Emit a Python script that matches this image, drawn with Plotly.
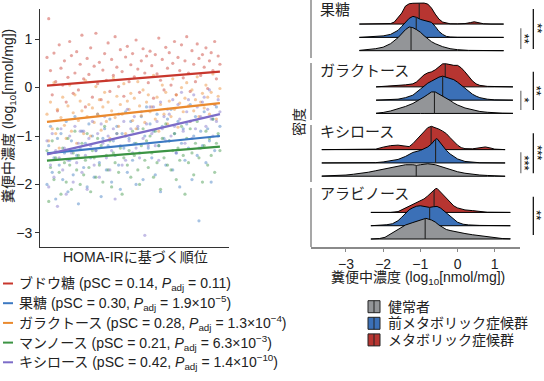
import numpy as np
import plotly.graph_objects as go

W, H = 544, 381
def px(x): return x / W
def py(y): return 1 - y / H

FONT = "'Liberation Sans', 'Noto Sans CJK JP', sans-serif"

# ---------------- left panel data ----------------
subject_rank = list(range(1, 101))
glucose = [0.62, 1.42, 0.35, -0.15, 0.71, 0.12, -0.48, 0.88, 0.40, 0.05,
           0.55, -0.30, 0.21, 0.95, 0.66, -0.12, 0.30, 0.74, -0.05, 0.48,
           1.08, 0.18, -0.40, 0.60, 0.27, 0.82, -0.20, 0.44, 1.12, 0.08,
           0.52, -0.25, 0.36, 0.70, 0.15, 0.92, -0.08, 0.58, 0.25, 1.05,
           0.42, 0.02, 0.78, 0.33, -0.18, 0.63, 0.85, 0.12, 0.47, 0.70,
           0.22, 0.98, 0.38, -0.10, 0.55, 0.80, 0.30, 0.65, 0.10, 0.75,
           0.45, -0.22, 0.68, 0.28, 1.02, 0.15, 0.58, -0.05, 0.83, 0.40,
           0.72, 0.05, 0.50, 0.95, -0.15, 0.62, 0.35, 0.88, 0.20, 0.55,
           1.05, 0.30, -0.08, 0.76, 0.48, 0.12, 0.90, 0.60, 0.25, 0.68,
           0.42, 0.82, -0.02, 0.55, 0.72, 0.35, 0.95, 0.18, 0.65, 0.48]
fructose = [-2.00, -1.20, -0.80, -1.75, -1.45, -2.30, -1.05, -1.60, -0.95, -1.90,
            -1.35, -0.70, -2.15, -1.50, -1.10, -1.80, -0.60, -1.40, -2.40, -1.25,
            -0.90, -1.65, -1.15, -2.05, -0.75, -1.45, -1.00, -1.85, -1.30, -0.55,
            -1.55, -2.25, -1.05, -0.85, -1.70, -1.20, -0.65, -1.95, -1.10, -1.40,
            -0.80, -1.60, -2.10, -0.95, -1.25, -0.50, -1.75, -1.05, -0.70, -1.50,
            -1.15, -2.00, -0.85, -1.35, -0.60, -1.90, -1.00, -0.40, -1.25, -0.75,
            -1.45, -0.90, -1.80, -0.55, -1.20, -2.15, -0.80, -1.05, -1.60, -0.65,
            -1.10, -0.45, -1.70, -0.95, -1.35, -0.70, -2.05, -1.15, -0.85, -1.50,
            -0.75, -1.25, -0.35, -1.90, -1.00, -0.60, -1.40, -2.75, -0.90, -1.20,
            -0.50, -1.55, -0.85, -1.10, -1.95, -0.65, -1.30, -0.40, -1.00, -0.80]
galactose = [-0.55, -1.10, -0.30, -0.85, 0.10, -0.95, -0.45, -1.25, -0.62, -0.20,
             -0.78, -1.05, -0.38, 0.05, -0.90, -0.52, -0.15, -1.15, -0.68, -0.28,
             -0.48, -0.95, 0.15, -0.60, -0.35, -1.00, -0.42, -0.72, 0.02, -0.55,
             -0.25, -0.88, -0.40, -0.10, -0.70, -0.30, -1.05, -0.48, 0.20, -0.62,
             -0.18, -0.80, -0.35, -0.55, 0.08, -0.95, -0.28, -0.45, -0.12, -0.68,
             -0.22, -0.85, 0.12, -0.38, -0.58, -0.05, -0.72, -0.30, -0.15, -0.50,
             -0.40, 0.25, -0.65, -0.20, -0.90, -0.35, 0.05, -0.55, -0.10, -0.75,
             -0.28, -0.60, 0.18, -0.45, -0.15, -0.82, -0.32, 0.00, -0.50, -0.22,
             0.10, -0.38, -0.70, -0.05, -0.48, -0.25, 0.22, -0.60, -0.30, -0.12,
             -0.42, 0.05, -0.20, -0.55, -0.10, 0.28, -0.35, -0.65, -0.18, -0.02]
mannose = [-1.30, -2.35, -1.65, -1.10, -1.90, -1.45, -0.85, -1.75, -2.20, -1.25,
           -1.55, -1.95, -1.05, -1.60, -2.10, -1.35, -0.90, -1.70, -1.40, -2.00,
           -1.15, -1.80, -1.50, -0.95, -1.65, -2.15, -1.30, -1.45, -1.85, -1.05,
           -1.60, -1.20, -1.95, -0.80, -1.40, -1.70, -1.10, -2.05, -1.35, -1.55,
           -0.95, -1.75, -1.25, -2.20, -1.45, -1.00, -1.60, -1.30, -1.85, -0.90,
           -1.40, -1.15, -1.70, -2.00, -1.20, -0.85, -1.50, -1.10, -1.65, -1.00,
           -1.35, -1.85, -0.90, -1.55, -1.20, -2.10, -1.05, -1.45, -0.75, -1.60,
           -1.10, -1.70, -1.30, -0.95, -1.90, -1.25, -1.50, -0.80, -1.40, -2.20,
           -1.05, -1.55, -0.85, -1.35, -1.80, -1.15, -0.70, -1.45, -1.25, -1.95,
           -1.20, -0.90, -1.60, -1.05, -1.40, -0.65, -1.75, -1.15, -0.95, -1.30]
xylose = [-1.10, -2.05, -1.60, -0.95, -1.85, -1.30, -2.45, -1.45, -0.85, -1.70,
          -1.25, -2.20, -1.50, -1.00, -1.35, -1.95, -0.80, -1.55, -1.15, -0.90,
          -1.75, -0.90, -1.40, -2.10, -1.05, -1.20, -0.70, -1.60, -1.30, -0.95,
          -1.85, -0.75, -1.15, -0.60, -1.45, -1.00, -1.70, -1.30, -0.85, -2.30,
          -0.95, -0.55, -1.20, -1.60, -0.70, -1.50, -0.45, -1.10, -0.85, -1.35,
          -0.60, -1.25, -0.80, -1.45, -0.50, -1.05, -3.05, -0.75, -1.20, -0.40,
          -0.95, -0.40, -1.20, -0.70, -1.50, -0.30, -0.85, -0.60, -1.10, -0.45,
          -0.55, -1.00, -0.25, -0.80, -1.35, -0.35, -0.65, -0.10, -0.90, -1.15,
          -0.50, -0.25, -0.70, -1.05, -0.15, -0.85, -0.40, -1.25, -0.60, -0.30,
          -0.20, -0.80, -0.45, -0.05, -0.65, -1.00, -0.35, -0.70, -0.25, -0.50]

sugar_names = ["ブドウ糖", "果糖", "ガラクトース", "マンノース", "キシロース"]
sugar_colors = ["#c8372d", "#3c79c2", "#ea8a2e", "#3c9444", "#7c6cc8"]
fit_start = [0.04, -1.36, -0.71, -1.51, -1.38]
fit_end = [0.33, -1.00, -0.32, -1.22, -0.55]
psc = ["0.14", "0.30", "0.28", "0.21", "0.42"]
padj = ["0.11", "1.9×10<sup>−5</sup>", "1.3×10<sup>−4</sup>",
        "6.3×10<sup>−3</sup>", "1.4×10<sup>−10</sup>"]
sugar_values = [glucose, fructose, galactose, mannose, xylose]

# ---------------- right panel data (density heights) ----------------
group_names = ["果糖", "ガラクトース", "キシロース", "アラビノース"]
status_names = ["健常者", "前メタボリック症候群", "メタボリック症候群"]
status_colors = ["#939598", "#3b70b7", "#b73531"]

fru_red_x = [-2.64, -2.0, -1.8, -1.7, -1.6, -1.5, -1.4, -1.3, -1.2, -1.1, -1.0, -0.9, -0.8, -0.7, -0.6, -0.5, -0.4, -0.3, -0.2, 0.0, 0.2, 0.35, 0.45, 0.55, 0.7, 0.9, 1.24]
fru_red_h = [0, 0, 0.5, 2, 6, 11, 18, 20.3, 20.8, 21, 21, 21, 20, 16, 10, 5, 2, 0.8, 0.3, 0.2, 0.5, 1.5, 2.3, 1.5, 0.3, 0, 0]
fru_blue_x = [-2.64, -2.3, -2.0, -1.8, -1.6, -1.5, -1.4, -1.3, -1.2, -1.1, -1.0, -0.9, -0.8, -0.7, -0.6, -0.5, -0.4, -0.3, -0.2, 0.0, 1.24]
fru_blue_h = [0, 0.5, 1.5, 3, 7, 11, 15, 19, 21, 20, 18, 17, 16.5, 15, 11, 6, 3, 1, 0.4, 0.1, 0]
fru_gray_x = [-2.64, -2.4, -2.2, -2.0, -1.8, -1.6, -1.5, -1.4, -1.3, -1.2, -1.1, -1.0, -0.9, -0.8, -0.7, -0.6, -0.5, -0.4, -0.2, 0.0, 0.3, 0.6, 1.24]
fru_gray_h = [0.3, 1, 2, 3.5, 7, 13, 17, 21, 23.7, 23, 21, 18.5, 15, 12, 9, 7, 5.5, 4, 2, 1, 0.3, 0.1, 0]

gal_red_x = [-2.19, -1.8, -1.6, -1.4, -1.2, -1.1, -1.0, -0.9, -0.8, -0.7, -0.6, -0.5, -0.4, -0.3, -0.2, -0.1, 0.0, 0.1, 0.2, 0.3, 0.4, 0.5, 0.6, 0.8, 1.0, 1.49]
gal_red_h = [0, 0.5, 1.5, 2, 3, 5, 9, 12, 14, 15, 17, 20, 23, 23, 22, 21.5, 21.5, 19, 15, 10, 6, 3, 1.5, 0.5, 0.2, 0]
gal_blue_x = [-2.19, -1.8, -1.6, -1.4, -1.2, -1.0, -0.9, -0.8, -0.7, -0.6, -0.5, -0.4, -0.3, -0.2, -0.1, 0.0, 0.1, 0.2, 0.3, 0.4, 0.5, 0.6, 0.8, 1.0, 1.49]
gal_blue_h = [0, 0.5, 1, 2.5, 5, 11, 14.5, 17, 19, 21, 23, 24, 23, 22, 20.5, 18, 15, 12, 9, 6, 4, 2.5, 1, 0.3, 0]
gal_gray_x = [-2.19, -2.0, -1.8, -1.6, -1.4, -1.2, -1.0, -0.9, -0.8, -0.7, -0.6, -0.5, -0.4, -0.3, -0.2, -0.1, 0.0, 0.2, 0.4, 0.6, 0.8, 1.0, 1.2, 1.49]
gal_gray_h = [0.3, 1, 2.5, 4.5, 7, 10, 14, 16.5, 19, 21.5, 21.5, 19.5, 17.5, 15.5, 13, 10.5, 8.5, 5.5, 3.5, 2, 1.2, 0.6, 0.3, 0.1]

xyl_red_x = [-3.65, -2.4, -2.2, -2.0, -1.8, -1.6, -1.45, -1.3, -1.2, -1.1, -1.0, -0.9, -0.8, -0.7, -0.6, -0.5, -0.4, -0.3, -0.2, -0.1, 0.0, 0.1, 0.2, 0.4, 0.6, 0.75, 0.9, 1.0, 1.28]
xyl_red_h = [0, 0, 0.5, 2.5, 4, 4.5, 3.5, 3, 6, 10, 15, 19, 22, 23.3, 22, 20.5, 18.5, 16, 12, 8, 4.5, 2, 1, 0.8, 2, 2.7, 1.5, 0.5, 0]
xyl_blue_x = [-3.65, -2.4, -2.2, -2.0, -1.8, -1.6, -1.4, -1.2, -1.0, -0.9, -0.8, -0.7, -0.6, -0.55, -0.5, -0.4, -0.3, -0.2, -0.1, 0.0, 0.2, 0.4, 0.6, 1.28]
xyl_blue_h = [0, 0, 0.3, 1, 2, 3.5, 6.5, 10.5, 12.5, 14, 16, 19, 23.5, 24.3, 22, 17, 12.5, 9, 6.5, 4, 1.5, 0.5, 0.2, 0]
xyl_gray_x = [-3.65, -3.4, -3.2, -3.0, -2.8, -2.6, -2.4, -2.2, -2.0, -1.8, -1.6, -1.4, -1.2, -1.1, -1.0, -0.8, -0.6, -0.4, -0.2, 0.0, 0.2, 0.4, 0.6, 0.8, 1.0, 1.28]
xyl_gray_h = [0.2, 0.5, 0.8, 1.2, 2, 2.8, 4, 5.5, 7, 9, 10.5, 11.5, 11.5, 11, 11.5, 12.5, 11.5, 9, 6.5, 4.5, 3, 2, 1.2, 0.8, 0.5, 0.3]

ara_red_x = [-2.33, -1.8, -1.6, -1.5, -1.4, -1.3, -1.2, -1.1, -1.0, -0.9, -0.8, -0.7, -0.6, -0.55, -0.5, -0.4, -0.3, -0.2, -0.1, 0.0, 0.2, 0.4, 0.6, 0.8, 1.42]
ara_red_h = [0, 0, 0.8, 2.5, 4.5, 6, 8, 9.5, 11, 13.5, 16.5, 20, 23.5, 24, 22, 18, 14, 10, 6.5, 4.5, 2.5, 1.8, 0.8, 0.2, 0]
ara_blue_x = [-2.33, -2.1, -1.9, -1.75, -1.6, -1.5, -1.4, -1.3, -1.2, -1.1, -1.0, -0.9, -0.8, -0.75, -0.65, -0.55, -0.45, -0.35, -0.25, -0.15, 0.0, 0.15, 0.3, 0.6, 1.42]
ara_blue_h = [0, 0.3, 1, 2, 5, 8.5, 12.5, 16, 18, 19.5, 20, 19.5, 18.5, 18.3, 19, 19.3, 17.5, 14.5, 11.5, 8, 3.5, 1.5, 0.8, 0.3, 0]
ara_gray_x = [-2.33, -2.1, -1.95, -1.8, -1.6, -1.4, -1.2, -1.0, -0.85, -0.7, -0.6, -0.5, -0.4, -0.3, -0.2, 0.0, 0.2, 0.4, 0.6, 0.8, 1.0, 1.2, 1.42]
ara_gray_h = [0, 0.5, 1.7, 5, 10, 14, 16.5, 19, 20.7, 19, 17, 14, 11.5, 9.5, 8.5, 6.7, 5.5, 4.3, 3.2, 2.2, 1.2, 0.5, 0.2]

# medians: [gray, blue, red] per group
fru_medians = [-1.25, -1.11, -1.03]
gal_medians = [-0.62, -0.40, -0.33]
xyl_medians = [-1.11, -0.59, -0.71]
ara_medians = [-0.87, -0.75, -0.63]

sig_outer = ["**", "**", "***", "**"]
sig_inner = ["**", "*", "***", ""]

# ---------------- figure ----------------
fig = go.Figure()

x_lo, x_hi = -3.0, 105.2
for name, vals, col in zip(sugar_names, sugar_values, sugar_colors):
    fig.add_trace(go.Scatter(x=subject_rank, y=vals, mode="markers",
                             marker=dict(size=3.2, color=col, opacity=0.45),
                             xaxis="x", yaxis="y", hoverinfo="skip"))
for name, col, a, b in zip(sugar_names, sugar_colors, fit_start, fit_end):
    fig.add_trace(go.Scatter(x=[subject_rank[0], subject_rank[-1]], y=[a, b],
                             mode="lines", line=dict(color=col, width=2.2),
                             xaxis="x", yaxis="y"))

DSCALE = 1 / 13.3
GROUP_OFF = [14.76, 10.04, 5.32, 0.6]
ridges = [
    [(fru_gray_x, fru_gray_h), (fru_blue_x, fru_blue_h), (fru_red_x, fru_red_h)],
    [(gal_gray_x, gal_gray_h), (gal_blue_x, gal_blue_h), (gal_red_x, gal_red_h)],
    [(xyl_gray_x, xyl_gray_h), (xyl_blue_x, xyl_blue_h), (xyl_red_x, xyl_red_h)],
    [(ara_gray_x, ara_gray_h), (ara_blue_x, ara_blue_h), (ara_red_x, ara_red_h)],
]
medians = [fru_medians, gal_medians, xyl_medians, ara_medians]

for g in range(4):
    for k in [2, 1, 0]:
        xs, hs = ridges[g][k]
        base = GROUP_OFF[g] + k
        top = [base + h * DSCALE for h in hs]
        polx = list(xs) + list(xs[::-1])
        poly = top + [base] * len(xs)
        fig.add_trace(go.Scatter(x=polx, y=poly, mode="lines", fill="toself",
                                 fillcolor=status_colors[k],
                                 line=dict(color="black", width=1),
                                 xaxis="x2", yaxis="y2", hoverinfo="skip"))
        m = medians[g][k]
        mh = float(np.interp(m, xs, hs))
        fig.add_trace(go.Scatter(x=[m, m], y=[base, base + mh * DSCALE], mode="lines",
                                 line=dict(color="#222", width=1.1),
                                 xaxis="x2", yaxis="y2", hoverinfo="skip"))

shapes = []
annotations = []

def note(x, y, text, size=14, angle=0, xanchor="center", color="#222"):
    annotations.append(dict(x=px(x), y=py(y), xref="paper", yref="paper", text=text,
                            showarrow=False, textangle=angle, xanchor=xanchor,
                            yanchor="middle", font=dict(size=size, color=color, family=FONT)))

for (a, b) in [(0, 58), (63, 120), (125, 182), (188, 247)]:
    shapes.append(dict(type="line", xref="paper", yref="paper",
                       x0=px(311), x1=px(311), y0=py(a), y1=py(b),
                       line=dict(color="#8a8a8a", width=1.5)))

outer_spans = [(9, 49), (71.7, 110), (133.3, 173.3), (196.7, 235)]
outer_txt_y = [28, 90.5, 153, 215]
inner_spans = [(28.3, 49), (90.7, 110), (152.3, 173.3), None]
inner_txt_y = [38.3, 100, 163, None]
for i in range(4):
    a, b = outer_spans[i]
    shapes.append(dict(type="line", xref="paper", yref="paper", x0=px(533.3), x1=px(533.3),
                       y0=py(a), y1=py(b), line=dict(color="black", width=1.2)))
    note(536.8, outer_txt_y[i], sig_outer[i], size=13, angle=90, color="black")
    if inner_spans[i] is not None:
        a, b = inner_spans[i]
        shapes.append(dict(type="line", xref="paper", yref="paper", x0=px(520.8), x1=px(520.8),
                           y0=py(a), y1=py(b), line=dict(color="#888", width=1.4)))
        note(524.5, inner_txt_y[i], sig_inner[i], size=13, angle=90, color="black")

for name, yy in zip(group_names, [9.7, 70.5, 131.5, 193.5]):
    note(318, yy, name, size=15, xanchor="left")

note(299, 122, "密度", angle=-90)
note(418, 277.5, "糞便中濃度 (log<sub>10</sub>[nmol/mg])")
note(9, 116, "糞便中濃度 (log<sub>10</sub>[nmol/mg])", angle=-90)
note(135, 257, "HOMA-IRに基づく順位")

for i, (name, col) in enumerate(zip(sugar_names, sugar_colors)):
    yy = 283.5 + i * 19.7
    shapes.append(dict(type="line", xref="paper", yref="paper", x0=px(3), x1=px(13),
                       y0=py(yy), y1=py(yy), line=dict(color=col, width=2)))
    note(17, yy, f"{name} (pSC = {psc[i]}, <i>P</i><sub>adj</sub> = {padj[i]})", xanchor="left")

for i, k in enumerate([0, 1, 2]):
    yc = 306.7 + i * 16.6
    shapes.append(dict(type="rect", xref="paper", yref="paper", x0=px(368), x1=px(380),
                       y0=py(yc - 6), y1=py(yc + 6), fillcolor=status_colors[k],
                       line=dict(color="#222", width=1)))
    shapes.append(dict(type="line", xref="paper", yref="paper", x0=px(374), x1=px(374),
                       y0=py(yc - 6), y1=py(yc + 6), line=dict(color="#222", width=1)))
    note(386, yc, status_names[k], xanchor="left")

fig.update_layout(
    width=W, height=H, margin=dict(l=0, r=0, t=0, b=0),
    plot_bgcolor="white", paper_bgcolor="white", showlegend=False,
    font=dict(family=FONT, color="#222"),
    xaxis=dict(domain=[px(40), px(229)], range=[x_lo, x_hi], showline=True,
               linecolor="#333", linewidth=1, showticklabels=False, ticks="",
               showgrid=False, zeroline=False, anchor="y"),
    yaxis=dict(domain=[py(247), py(9)], range=[-3.29, 1.62], showline=True,
               linecolor="#333", linewidth=1, ticks="outside", ticklen=4,
               tickcolor="#333", tickvals=[-3, -2, -1, 0, 1],
               ticktext=["−3", "−2", "−1", "0", "1"], tickfont=dict(size=14, color="#222"),
               showgrid=False, zeroline=False, anchor="x"),
    xaxis2=dict(domain=[px(311), px(520)], range=[-3.94, 1.68], showline=True,
                linecolor="#8a8a8a", linewidth=1.5, ticks="outside", ticklen=3,
                tickcolor="#8a8a8a", tickvals=[-3, -2, -1, 0, 1],
                ticktext=["−3", "−2", "−1", "0", "1"], tickfont=dict(size=14, color="#222"),
                showgrid=False, zeroline=False, anchor="y2"),
    yaxis2=dict(domain=[py(247), 1.0], range=[0, 18.57], visible=False, anchor="x2"),
    shapes=shapes, annotations=annotations,
)

fig.write_html("out.html", config={"displayModeBar": False},
               post_script="document.body.style.margin='0px';")
